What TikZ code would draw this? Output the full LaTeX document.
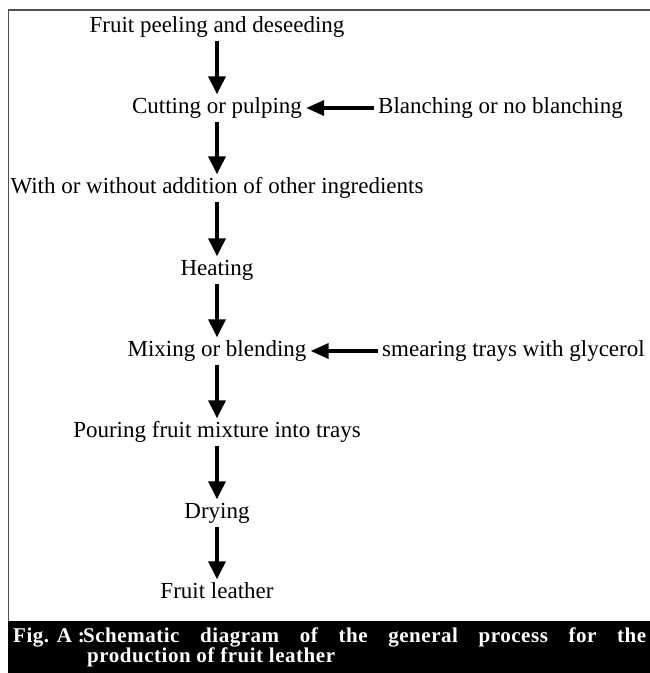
\documentclass[tikz,border=0pt]{standalone}
\usepackage{fontspec}
\setmainfont{Liberation Serif}
\newfontfamily\capfamily{Liberation Serif}[LetterSpace=2.5]
\usetikzlibrary{positioning, arrows.meta}
\definecolor{framegray}{HTML}{505050}

\begin{document}
\begin{tikzpicture}[x=1pt, y=-1pt,
    every node/.style={font=\fontsize{23}{26}\selectfont},
    stage/.style={inner xsep=4pt, inner ysep=3pt, text height=16pt, text depth=5pt},
    side/.style={stage, anchor=west},
    flow/.style={-{Triangle[length=18pt, width=17pt]}, line width=3.5pt},
    feed/.style={-{Triangle[length=18pt, width=15pt]}, line width=3.5pt},
    caption/.style={inner sep=0pt, anchor=base west, text=white,
                    font=\capfamily\bfseries\fontsize{21}{18}\selectfont},
  ]
  \useasboundingbox (0,0) rectangle (650,673);
  % frame and caption bar
  \fill[black] (8,621) rectangle (650,673);
  \draw[framegray, line width=1.5pt] (8.5,621) |- (650,10);

  \node[stage] (peel) at (217,27) {Fruit peeling and deseeding};
  \node[stage] (cut) at (217,108) {Cutting or pulping};
  \node[stage] (add) at (217,188) {With or without addition of other ingredients};
  \node[stage] (heat) at (217,270) {Heating};
  \node[stage] (mix) at (217,351) {Mixing or blending};
  \node[stage] (pour) at (217,432) {Pouring fruit mixture into trays};
  \node[stage] (dry) at (217,513) {Drying};
  \node[stage] (leather) at (217,593) {Fruit leather};

  \node[side] (blanch) at (374,108) {Blanching or no blanching};
  \node[side] (smear) at (378,351) {smearing trays with glycerol};

  \draw[flow] (peel) -- (cut);
  \draw[flow] (cut) -- (add);
  \draw[flow] (add) -- (heat);
  \draw[flow] (heat) -- (mix);
  \draw[flow] (mix) -- (pour);
  \draw[flow] (pour) -- (dry);
  \draw[flow] (dry) -- (leather);
  \draw[feed] (blanch) -- (cut);
  \draw[feed] (smear) -- (mix);

  % caption
  \node[caption] (figlabel) at (13,642) {Fig. A :};
  \node[caption, text width=563pt, align=justify] (figtext) at (83,642)
    {Schematic diagram of the general process for the\linebreak
     \hspace*{4pt}production of fruit leather};
\end{tikzpicture}
\end{document}
